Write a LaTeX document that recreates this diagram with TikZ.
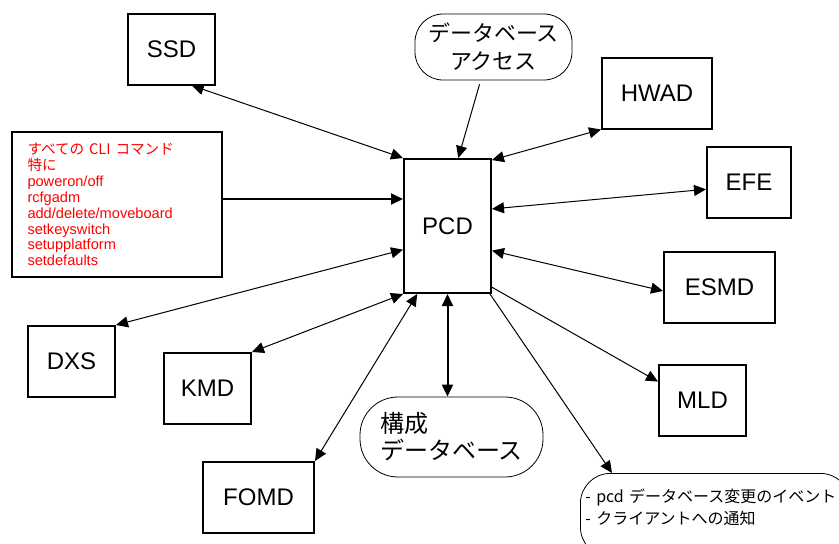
\documentclass[tikz,border=0pt]{standalone}
\usepackage{fontspec}
\setmainfont{Liberation Sans}
\newfontfamily\jpfont{Noto Sans CJK JP}
\usetikzlibrary{arrows.meta}
\tikzset{
    daemon/.style={draw, line width=2pt, minimum height=71pt,
        font=\fontsize{24}{28}\selectfont},
    dbshape/.style={draw, line width=.8pt, font=\jpfont\fontsize{22}{28}\selectfont},
    link/.style={line width=1pt, <->},
    feed/.style={line width=1pt, ->},
}

\begin{document}
\begin{tikzpicture}[x=1pt, y=-1pt, >={Triangle[length=12pt, width=11pt]}]
    \useasboundingbox (0,0) rectangle (839,544);
    % the daemon boxes
    \node[daemon, minimum width=87pt, minimum height=134pt] (PCD) at (447.5,226) {PCD};
    \foreach \nm/\x/\y/\w in {SSD/171.5/49/87, HWAD/657/93/110, EFE/749/182.5/84,
        ESMD/719.5/287/111, MLD/702.5/400.5/87, DXS/71.5/361.5/87,
        KMD/207.5/388.5/87, FOMD/258.5/497.5/111}{
        \node[daemon, minimum width=\w pt] (\nm) at (\x,\y) {\nm};
    }
    \node[draw, line width=2pt, text=red, minimum height=145pt, text width=178pt,
        inner xsep=16pt, align=left, font=\fontsize{14.6}{15.9}\selectfont]
        (cli) at (116.5,204.5) {{\jpfont すべての CLI コマンド}\\{\jpfont 特に}\\
        poweron/off\\rcfgadm\\add/delete/moveboard\\setkeyswitch\\setupplatform\\
        setdefaults};
    \node[dbshape, rounded corners=28pt, minimum width=157pt, minimum height=66pt,
        align=center] (dbacc) at (493.5,47) {データベース\\アクセス};
    \node[dbshape, rounded corners=38pt, minimum width=183pt, minimum height=80pt,
        align=left, font=\jpfont\fontsize{24}{27}\selectfont]
        (cfgdb) at (451.5,437) {構成\\データベース};
    \node[draw, line width=.8pt, rounded corners=30pt, anchor=north west,
        text width=260pt, align=left, inner xsep=5pt, inner ysep=15pt,
        text depth=40pt, font=\jpfont\fontsize{16}{22}\selectfont]
        (note) at (580,473) {- pcd データベース変更のイベント\\- クライアントへの通知};
    % connectors
    \foreach \from/\to in {SSD.-61/PCD.north west, HWAD.south west/PCD.56,
        EFE.-171/PCD.21, ESMD.-176/PCD.-29, DXS.north east/PCD.-152,
        KMD.north east/PCD.south west, FOMD.north east/PCD.-114}{
        \draw[link] (\from) -- (\to);
    }
    \draw[feed] (PCD.-54) -- (MLD.157);
    \draw[feed] (PCD.-58) -- ([xshift=32pt]note.north west);
    \draw[feed, shorten <=4pt] (dbacc.-111) -- (PCD.81);
    \coordinate (cliout) at ([yshift=5.5pt]cli.east);
    \draw[feed, line width=2pt] (cliout) -- (cliout -| PCD.west);
    \draw[link, line width=2pt] (PCD.south) -- (PCD.south |- cfgdb.north);
\end{tikzpicture}
\end{document}
